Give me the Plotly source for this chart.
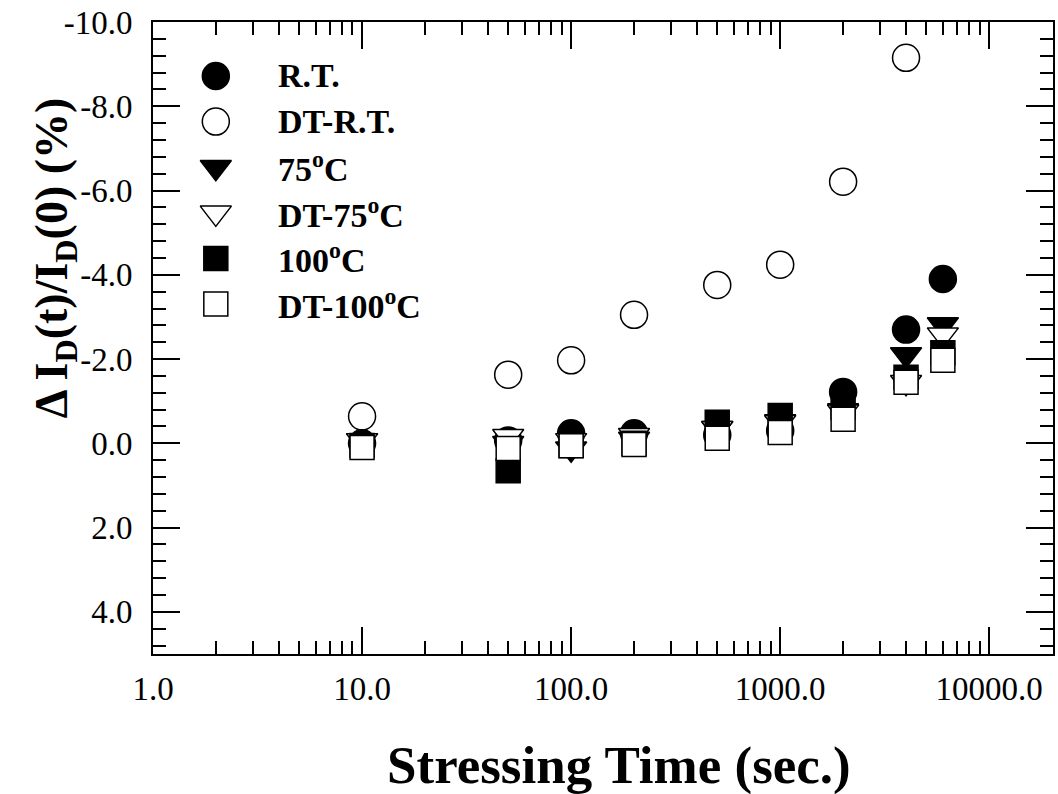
import numpy as np
import plotly.graph_objects as go

# Stress time (s) and relative drain-current change (%) for each condition
stress_time = [10, 50, 100, 200, 500, 1000, 2000, 4000, 6000]

rt = [0.0, -0.07, -0.24, -0.24, -0.2, -0.3, -1.22, -2.7, -3.9]
dt_rt = [-0.64, -1.63, -1.97, -3.05, -3.76, -4.24, -6.21, -9.15, None]
t75 = [-0.07, 0.0, 0.13, -0.1, -0.36, -0.52, -0.78, -2.11, -2.82]
dt_t75 = [-0.07, -0.17, -0.07, -0.19, -0.36, -0.5, -0.75, -1.45, -2.58]
t100 = [0.05, 0.65, 0.05, 0.0, -0.5, -0.66, -0.85, -1.57, -2.15]
dt_t100 = [0.1, 0.12, 0.06, 0.03, -0.12, -0.26, -0.57, -1.45, -1.97]

series_names = ["R.T.", "DT-R.T.", "75<sup>o</sup>C", "DT-75<sup>o</sup>C",
                "100<sup>o</sup>C", "DT-100<sup>o</sup>C"]
series_values = [rt, dt_rt, t75, dt_t75, t100, dt_t100]

x_tick_vals = [1, 10, 100, 1000, 10000]
x_tick_text = ["1.0", "10.0", "100.0", "1000.0", "10000.0"]
y_tick_vals = [-10, -8, -6, -4, -2, 0, 2, 4]
y_tick_text = ["-10.0", "-8.0", "-6.0", "-4.0", "-2.0", "0.0", "2.0", "4.0"]

# marker style per series: (symbol, fill, size)
styles = [
    ("circle", "black", 27),
    ("circle", "white", 27),
    ("triangle-down", "black", 27),
    ("triangle-down", "white", 27),
    ("square", "black", 24),
    ("square", "white", 24),
]

FONT = "Liberation Serif"

fig = go.Figure()

for name, vals, (sym, fill, size) in zip(series_names, series_values, styles):
    fig.add_trace(go.Scatter(
        x=stress_time, y=vals, mode="markers", name=name,
        marker=dict(symbol=sym, color=fill, size=size,
                    line=dict(color="black", width=1.5)),
        showlegend=False, hoverinfo="skip",
    ))

# Legend drawn on an overlay axis spanning the plot area (0..1 both ways)
leg_x = 0.0698
leg_text_x = 0.1364
leg_top = 0.9146
leg_step = 0.0722
for i, (name, (sym, fill, size)) in enumerate(zip(series_names, styles)):
    yy = leg_top - i * leg_step
    fig.add_trace(go.Scatter(
        x=[leg_x], y=[yy], xaxis="x2", yaxis="y2", mode="markers",
        marker=dict(symbol=sym, color=fill, size=size,
                    line=dict(color="black", width=1.5)),
        showlegend=False, hoverinfo="skip",
    ))
    fig.add_annotation(
        x=leg_text_x, y=yy, xref="paper", yref="paper",
        text=f"<b>{name}</b>", showarrow=False,
        xanchor="left", yanchor="middle",
        font=dict(family=FONT, size=34, color="black"),
    )

x_minor = [k * 10 ** d for d in range(0, 5) for k in range(2, 10) if k * 10 ** d < 20000]
y_minor = [round(v, 1) for v in np.arange(-10, 5.001, 0.4) if round(v, 1) not in y_tick_vals]

axis_common = dict(
    showline=True, linewidth=2, linecolor="black", mirror="allticks",
    ticks="inside", ticklen=27, tickwidth=2, tickcolor="black",
    showgrid=False, zeroline=False,
    tickfont=dict(family=FONT, size=33, color="black"),
)

fig.update_layout(
    width=1058, height=794,
    margin=dict(l=153, r=3, t=22, b=140),
    paper_bgcolor="white", plot_bgcolor="white",
    xaxis=dict(
        type="log", range=[0, 4.305],
        tickmode="array", tickvals=x_tick_vals, ticktext=x_tick_text,
        ticklabelstandoff=4,
        minor=dict(tickmode="array", tickvals=x_minor, ticks="inside",
                   ticklen=13, tickwidth=2, tickcolor="black", showgrid=False),
        **axis_common,
    ),
    yaxis=dict(
        range=[5, -10],
        tickmode="array", tickvals=y_tick_vals, ticktext=y_tick_text,
        ticklabelstandoff=12,
        minor=dict(tickmode="array", tickvals=y_minor, ticks="inside",
                   ticklen=13, tickwidth=2, tickcolor="black", showgrid=False),
        **axis_common,
    ),
    xaxis2=dict(overlaying="x", anchor="y2", range=[0, 1], visible=False),
    yaxis2=dict(overlaying="y", anchor="x2", range=[0, 1], visible=False),
    showlegend=False,
)

fig.add_annotation(
    x=0.518, y=-0.1772, xref="paper", yref="paper",
    text="<b>Stressing Time (sec.)</b>", showarrow=False,
    xanchor="center", yanchor="middle",
    font=dict(family=FONT, size=53, color="black"),
)
fig.add_annotation(
    x=-0.1086, y=0.6266, xref="paper", yref="paper",
    text="<b>Δ I<sub>D</sub>(t)/I<sub>D</sub>(0) (%)</b>", showarrow=False,
    textangle=-90, xanchor="center", yanchor="middle",
    font=dict(family=FONT, size=46, color="black"),
)

fig.write_html("out.html")
